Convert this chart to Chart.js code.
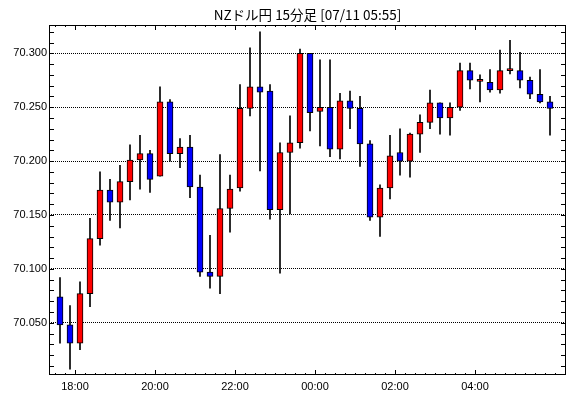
<!DOCTYPE html>
<html>
<head>
<meta charset="utf-8">
<script src="https://cdn.jsdelivr.net/npm/chart.js@4/dist/chart.umd.min.js"></script>
<style>
  html, body { margin: 0; padding: 0; background: #fff; }
  #wrap { position: relative; width: 570px; height: 398px; }
  #title {
    position: absolute; left: 49px; width: 517px; top: 5px;
    text-align: center; font: 13.5px "Noto Sans CJK JP", sans-serif; color: #000;
    line-height: 18px;
  }
</style>
</head>
<body>
<div id="wrap">
  <div id="title">NZドル円 15分足 [07/11 05:55]</div>
  <canvas id="chart" width="570" height="398"></canvas>
</div>
<script>
// 15-minute candles, 17:30 .. 05:45
const opens  = [70.074, 70.048, 70.031, 70.077, 70.128, 70.173, 70.162, 70.181, 70.201, 70.207,
                70.186, 70.255, 70.207, 70.213, 70.176, 70.097, 70.093, 70.156, 70.175, 70.249,
                70.269, 70.265, 70.155, 70.208, 70.217, 70.300, 70.246, 70.250, 70.211, 70.256,
                70.249, 70.216, 70.148, 70.175, 70.208, 70.200, 70.225, 70.236, 70.254, 70.240,
                70.250, 70.284, 70.274, 70.273, 70.266, 70.284, 70.284, 70.275, 70.262, 70.255];
const closes = [70.048, 70.031, 70.077, 70.128, 70.173, 70.162, 70.181, 70.201, 70.207, 70.183,
                70.255, 70.207, 70.213, 70.176, 70.097, 70.093, 70.156, 70.174, 70.249, 70.269,
                70.264, 70.155, 70.208, 70.217, 70.300, 70.245, 70.250, 70.211, 70.256, 70.249,
                70.216, 70.148, 70.175, 70.205, 70.200, 70.225, 70.236, 70.254, 70.240, 70.250,
                70.284, 70.275, 70.274, 70.266, 70.284, 70.284, 70.275, 70.262, 70.255, 70.249];
const highs  = [70.092, 70.066, 70.088, 70.147, 70.190, 70.183, 70.196, 70.215, 70.224, 70.210,
                70.269, 70.257, 70.221, 70.224, 70.187, 70.131, 70.206, 70.187, 70.271, 70.305,
                70.320, 70.271, 70.217, 70.242, 70.304, 70.300, 70.294, 70.294, 70.263, 70.265,
                70.260, 70.219, 70.178, 70.224, 70.230, 70.226, 70.243, 70.266, 70.254, 70.254,
                70.291, 70.291, 70.280, 70.285, 70.303, 70.312, 70.301, 70.278, 70.285, 70.260];
const lows   = [70.031, 70.007, 70.025, 70.065, 70.122, 70.145, 70.138, 70.164, 70.174, 70.171,
                70.186, 70.200, 70.194, 70.166, 70.093, 70.082, 70.077, 70.134, 70.172, 70.242,
                70.191, 70.146, 70.096, 70.151, 70.212, 70.228, 70.214, 70.204, 70.202, 70.230,
                70.195, 70.145, 70.130, 70.165, 70.187, 70.185, 70.208, 70.230, 70.225, 70.224,
                70.247, 70.267, 70.255, 70.264, 70.263, 70.281, 70.268, 70.258, 70.254, 70.224];

// time labels sit on candle boundaries (18:00 is the start of candle 2)
const xTickPos    = [1.5, 9.5, 17.5, 25.5, 33.5, 41.5];
const xTickLabels = ['18:00', '20:00', '22:00', '00:00', '02:00', '04:00'];
const yTicks      = [70.05, 70.10, 70.15, 70.20, 70.25, 70.30];

const idx = opens.map((_, i) => i);
const bodies = idx.map(i => ({ x: i, y: [opens[i], closes[i]] }));
const wicks  = idx.map(i => ({ x: i, y: [lows[i], highs[i]] }));
const bodyColors = idx.map(i => closes[i] >= opens[i] ? '#ff0000' : '#0000ff');

const labelFont = { family: '"Liberation Sans", sans-serif', size: 11 };

// frame with inward tick marks on all four sides
const frame = {
  id: 'frame',
  afterDraw(chart) {
    const { ctx, chartArea: a, scales: { x, y } } = chart;
    ctx.save();
    ctx.strokeStyle = '#000';
    ctx.lineWidth = 1;
    ctx.strokeRect(a.left + 0.5, a.top + 0.5, a.right - a.left - 1, a.bottom - a.top - 1);
    ctx.beginPath();
    for (let k = -2; k <= 51; k++) {
      const v = k + 0.5;
      if (v <= x.min || v >= x.max) continue;
      const px = Math.round(x.getPixelForValue(v)) + 0.5;
      const len = xTickPos.includes(v) ? 5 : 2;
      ctx.moveTo(px, a.bottom);
      ctx.lineTo(px, a.bottom - len);
      ctx.moveTo(px, a.top);
      ctx.lineTo(px, a.top + len);
    }
    for (let k = 1; k <= 32; k++) {
      const v = 70 + k / 100;
      if (v <= y.min || v >= y.max) continue;
      const py = Math.round(y.getPixelForValue(v)) + 0.5;
      ctx.moveTo(a.left, py);
      ctx.lineTo(a.left + 5, py);
      ctx.moveTo(a.right, py);
      ctx.lineTo(a.right - 5, py);
    }
    ctx.stroke();
    ctx.restore();
  }
};

new Chart(document.getElementById('chart').getContext('2d'), {
  type: 'bar',
  data: {
    datasets: [
      {
        label: 'body',
        data: bodies,
        backgroundColor: bodyColors,
        borderColor: '#000',
        borderWidth: 1,
        borderSkipped: false,
        barThickness: 6,
        minBarLength: 2,
        grouped: false,
        order: 0
      },
      {
        label: 'wick',
        data: wicks,
        backgroundColor: '#000',
        borderWidth: 0,
        barThickness: 1,
        grouped: false,
        order: 1
      }
    ]
  },
  options: {
    responsive: false,
    animation: false,
    events: [],
    layout: { padding: { left: 0, right: 4, top: 25, bottom: 0 } },
    plugins: {
      legend: { display: false },
      tooltip: { enabled: false },
      title: { display: false }
    },
    scales: {
      x: {
        type: 'linear',
        min: -1.1,
        max: 50.6,
        offset: false,
        grid: { display: false, offset: false, drawTicks: false },
        border: { display: false },
        afterFit: s => { s.height = 23; },
        afterBuildTicks: s => { s.ticks = xTickPos.map(v => ({ value: v })); },
        ticks: {
          autoSkip: false,
          maxRotation: 0,
          padding: 5,
          color: '#000',
          font: labelFont,
          callback: (v, i) => xTickLabels[i]
        }
      },
      y: {
        min: 70.0015,
        max: 70.3263,
        afterFit: s => { s.width = 49; },
        afterBuildTicks: s => { s.ticks = yTicks.map(v => ({ value: v })); },
        grid: { color: '#000', lineWidth: 1, drawTicks: false },
        border: { display: false, dash: [1, 1] },
        ticks: {
          padding: 2,
          color: '#000',
          font: labelFont,
          callback: v => v.toFixed(3)
        }
      }
    }
  },
  plugins: [frame]
});
</script>
</body>
</html>
